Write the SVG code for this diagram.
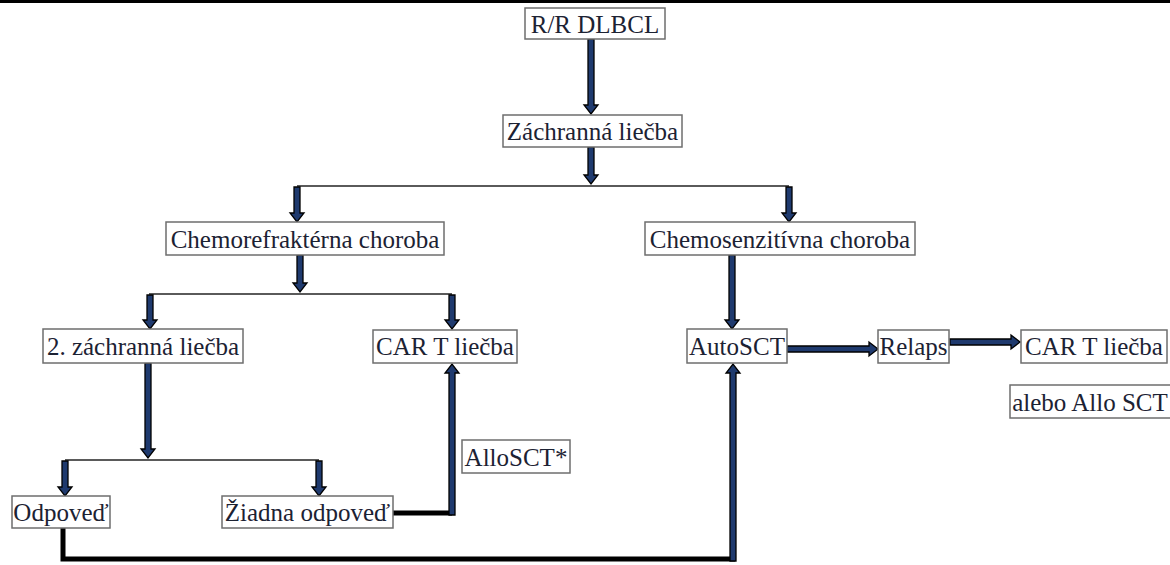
<svg xmlns="http://www.w3.org/2000/svg" width="1170" height="565" viewBox="0 0 1170 565">
<style>
.box{fill:#fff;stroke:#6e6e6e;stroke-width:1.5}
.t{font-family:'Liberation Serif','Times New Roman',Times,'Nimbus Roman','DejaVu Serif',serif;font-size:25px;fill:#1c2233;text-anchor:middle}
.thin{fill:none;stroke:#5a5a5a;stroke-width:1.8}
.arr{fill:#1f3a6e;stroke:#000;stroke-width:1.3;stroke-linejoin:miter}
.blk{fill:none;stroke:#000;stroke-width:5;stroke-linejoin:miter}
</style>
<rect width="1170" height="565" fill="#fff"/>
<rect x="0" y="0" width="1170" height="3" fill="#000"/>

<g id="connectors">
  <path class="thin" d="M297 186H789"/>
  <path class="thin" d="M149 294H452"/>
  <path class="thin" d="M65 460H319"/>
  <path class="blk" d="M393 513H452"/>
  <path class="blk" d="M63 528V559H735"/>
  <path class="arr" d="M588 39H594V105H598L591 114L584 105H588Z"/>
  <path class="arr" d="M588 147H594V175H598L591 184L584 175H588Z"/>
  <path class="arr" d="M294 187H300V213H304L297 222L290 213H294Z"/>
  <path class="arr" d="M786 187H792V213H796L789 222L782 213H786Z"/>
  <path class="arr" d="M297 255H303V283H307L300 292L293 283H297Z"/>
  <path class="arr" d="M147 295H153V320H157L150 329L143 320H147Z"/>
  <path class="arr" d="M449 295H455V320H459L452 329L445 320H449Z"/>
  <path class="arr" d="M729 255H735V320H739L732 329L725 320H729Z"/>
  <path class="arr" d="M145 363H151V449H155L148 458L141 449H145Z"/>
  <path class="arr" d="M62 461H68V487H72L65 496L58 487H62Z"/>
  <path class="arr" d="M316 461H322V487H326L319 496L312 487H316Z"/>
  <path class="arr" d="M787 346H869V342L878 349L869 356V352H787Z"/>
  <path class="arr" d="M950 339H1011V335L1020 342L1011 349V345H950Z"/>
  <path class="arr" d="M449 515H455V373H459L452 364L445 373H449Z"/>
  <path class="arr" d="M730 561H736V373H740L733 364L726 373H730Z"/>
</g>

<g id="n-rr"><rect class="box" x="525" y="8" width="140" height="31"/><text class="t" x="595" y="33">R/R DLBCL</text></g>
<g id="n-zachranna"><rect class="box" x="503" y="115" width="179" height="32"/><text class="t" x="592.5" y="140">Záchranná liečba</text></g>
<g id="n-chemoref"><rect class="box" x="166" y="222" width="278" height="33"/><text class="t" x="305" y="248">Chemorefraktérna choroba</text></g>
<g id="n-chemosen"><rect class="box" x="645" y="222" width="270" height="33"/><text class="t" x="780" y="248">Chemosenzitívna choroba</text></g>
<g id="n-zach2"><rect class="box" x="43" y="329" width="200" height="34"/><text class="t" x="143" y="355">2. záchranná liečba</text></g>
<g id="n-cart1"><rect class="box" x="373" y="330" width="144" height="33"/><text class="t" x="445" y="355">CAR T liečba</text></g>
<g id="n-autosct"><rect class="box" x="687" y="329" width="100" height="34"/><text class="t" x="737" y="355">AutoSCT</text></g>
<g id="n-relaps"><rect class="box" x="878" y="330" width="71" height="33"/><text class="t" x="913.5" y="355">Relaps</text></g>
<g id="n-cart2"><rect class="box" x="1021" y="330" width="146" height="33"/><text class="t" x="1094" y="355">CAR T liečba</text></g>
<g id="n-alebo"><rect class="box" x="1010" y="385" width="162" height="33"/><text class="t" x="1090" y="411">alebo Allo SCT</text></g>
<g id="n-allosct"><rect class="box" x="462" y="440" width="108" height="33"/><text class="t" x="516" y="466">AlloSCT*</text></g>
<g id="n-odpoved"><rect class="box" x="12" y="496" width="98" height="32"/><text class="t" x="61" y="521">Odpoveď</text></g>
<g id="n-ziadna"><rect class="box" x="222" y="496" width="171" height="32"/><text class="t" x="307.5" y="521">Žiadna odpoveď</text></g>
</svg>
